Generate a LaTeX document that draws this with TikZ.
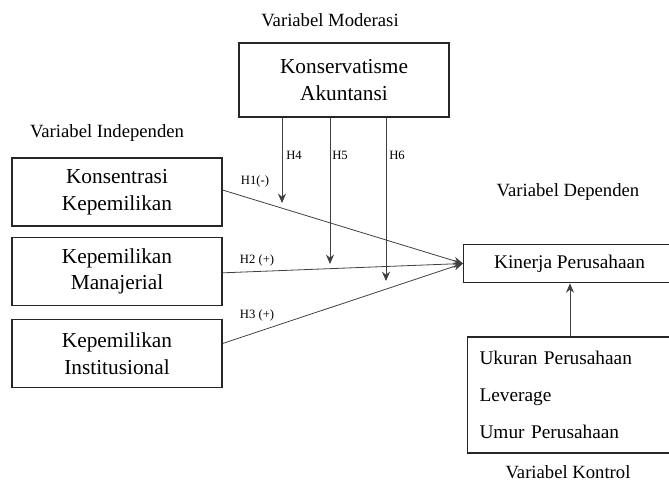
\documentclass[tikz,border=0pt]{standalone}
\usepackage{fontspec}
\setmainfont{Liberation Serif}
\usetikzlibrary{arrows.meta}
\usetikzlibrary{positioning}
\tikzstyle{arrow} = [line width=0.6pt,draw=black!75,->,>={Stealth[length=7pt,width=6pt]}]
\tikzstyle{varbox} = [draw=black!85,line width=0.8pt,align=center,font=\fontsize{16}{20}\selectfont,minimum width=157.5pt,minimum height=51pt,inner sep=0pt]
\tikzstyle{title} = [font=\fontsize{14}{16}\selectfont]
\tikzstyle{hlabel} = [font=\fontsize{9.5}{11}\selectfont]

\begin{document}
\begin{tikzpicture}[x=0.75pt,y=-0.75pt]
\useasboundingbox (0,0) rectangle (669,482);
\clip (0,0) rectangle (669,482);
% moderator
\node[varbox,minimum height=55.5pt] (mod) at (344,80) {Konservatisme\\Akuntansi};
\node[title] (tmod) at (330,20) {Variabel Moderasi};
% independent variables
\node[title] (tind) at (107,133) {Variabel Independen};
\node[varbox] (b1) at (117,192) {Konsentrasi\\Kepemilikan};
\node[varbox] (b2) at (117,271.5) {Kepemilikan\\Manajerial};
\node[varbox] (b3) at (117,353.5) {Kepemilikan\\Institusional};
% dependent
\node[title] (tdep) at (568,192) {Variabel Dependen};
\node[varbox,anchor=west,font=\fontsize{14.5}{17}\selectfont,minimum width=159pt,minimum height=29pt] (kin) at (463,263.5) {Kinerja Perusahaan};
% control
\node[draw=black!85,line width=0.8pt,anchor=west,align=left,font=\fontsize{14.5}{27.5}\selectfont,text width=150pt,minimum height=87pt,inner xsep=9pt] (ctrl) at (467,395) {Ukuran Perusahaan\\Leverage\\Umur Perusahaan};
\node[title] (tctrl) at (568,472) {Variabel Kontrol};
% direct effects
\draw[arrow] ([yshift=1.5pt]b1.east) -- (kin.west);
\draw[arrow] ([yshift=-1pt]b2.east) -- (kin.west);
\draw[arrow] ([yshift=7.5pt]b3.east) -- (kin.west);
\node[hlabel] (h1) at (255,181) {H1(-)};
\node[hlabel] (h2) at (257,260) {H2 (+)};
\node[hlabel] (h3) at (257,315) {H3 (+)};
% moderation
\coordinate (e4) at (282,203);
\coordinate (e5) at (330,264);
\coordinate (e6) at (386,281);
\draw[arrow] (mod.south -| e4) -- (e4);
\draw[arrow] (mod.south -| e5) -- (e5);
\draw[arrow] (mod.south -| e6) -- (e6);
\node[hlabel] (h4) at (294,155) {H4};
\node[hlabel] (h5) at (340,155) {H5};
\node[hlabel] (h6) at (397,155) {H6};
% control to dependent
\coordinate (c0) at (570,0);
\draw[arrow] (ctrl.north -| c0) -- (kin.south -| c0);
\end{tikzpicture}
\end{document}
